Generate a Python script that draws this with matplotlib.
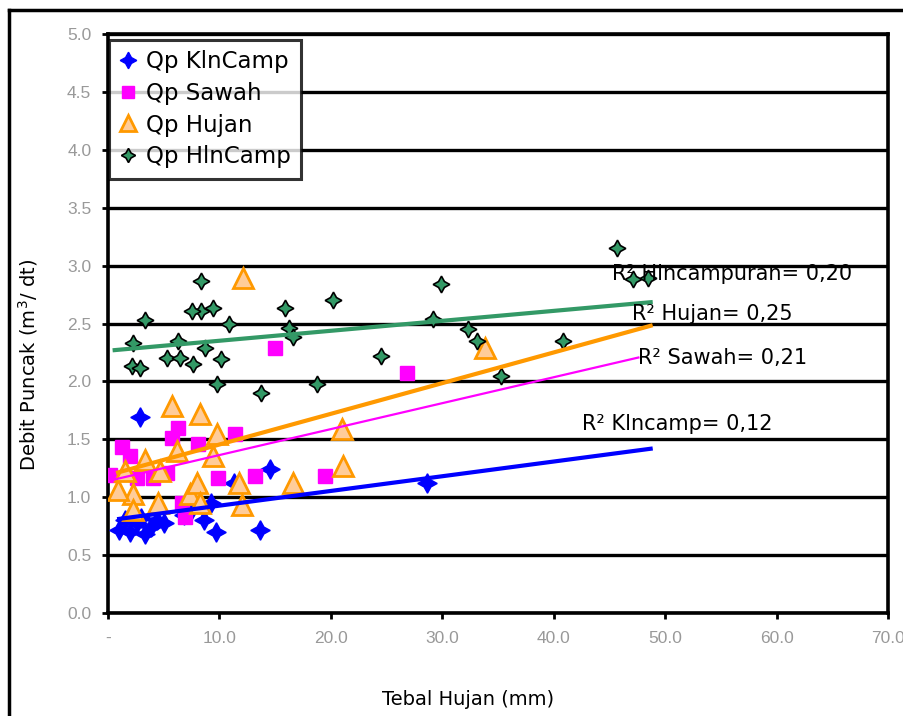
import matplotlib
matplotlib.use("Agg")
import numpy as np
import matplotlib.pyplot as plt
from matplotlib.lines import Line2D

# Qp KlnCamp (blue)
KLN_X = [1.0, 1.5, 2.0, 2.6, 3.0, 3.3, 3.9, 4.4, 5.0, 2.9, 6.8, 7.5, 8.6, 9.2, 9.7, 11.3, 13.6, 14.5, 28.6]
KLN_Y = [0.72, 0.80, 0.70, 0.78, 0.82, 0.68, 0.74, 0.80, 0.78, 1.69, 0.85, 0.90, 0.80, 0.95, 0.70, 1.12, 0.72, 1.24, 1.12]

# Qp Sawah (magenta)
SAWAH_X = [15.0, 26.8, 6.3, 5.7, 1.25, 2.0, 8.1, 11.4, 0.2, 2.6, 4.0, 5.3, 9.9, 13.2, 19.5, 6.9, 6.6]
SAWAH_Y = [2.29, 2.07, 1.60, 1.51, 1.43, 1.36, 1.46, 1.55, 1.19, 1.17, 1.17, 1.21, 1.17, 1.18, 1.18, 0.83, 0.95]

# Qp Hujan (orange triangles)
HUJAN_X = [12.1, 33.8, 5.7, 8.3, 9.8, 21.1, 21.0, 16.6, 11.8, 12.0, 3.3, 6.2, 2.2, 4.5,
           7.4, 8.0, 2.2, 8.3, 0.9, 1.5, 4.7, 9.4]
HUJAN_Y = [2.89, 2.29, 1.79, 1.72, 1.55, 1.27, 1.59, 1.12, 1.12, 0.93, 1.32, 1.40, 1.03, 0.95,
           1.03, 1.12, 0.89, 0.95, 1.06, 1.23, 1.23, 1.36]

# Qp HlnCamp (green)
HLN_X = [8.35, 3.3, 8.35, 7.5, 9.4, 10.9, 2.2, 6.3, 5.3, 6.5, 7.6, 8.7, 10.1, 2.15, 2.9, 9.8,
         13.7, 15.9, 20.2, 16.2, 16.6, 24.5, 18.8, 45.7, 29.9, 47.1, 48.5, 29.2, 32.3, 33.1,
         40.8, 35.3]
HLN_Y = [2.87, 2.53, 2.61, 2.61, 2.63, 2.50, 2.33, 2.35, 2.20, 2.20, 2.15, 2.29, 2.19, 2.13,
         2.12, 1.98, 1.90, 2.63, 2.70, 2.46, 2.38, 2.22, 1.98, 3.15, 2.84, 2.88, 2.89, 2.54,
         2.45, 2.35, 2.35, 2.05]

# linear trend lines: slope, intercept, x range
TREND_SLOPE = [0.0127, 0.0224, 0.0265, 0.0086]
TREND_INTERCEPT = [0.80, 1.14, 1.19, 2.265]
TREND_X0 = [1.0, 0.2, 0.9, 0.6]
TREND_X1 = [48.7, 47.6, 48.7, 48.7]

SERIES_LABELS = ["Qp KlnCamp", "Qp Sawah", "Qp Hujan", "Qp HlnCamp"]
R2_LABELS = ["R² Klncamp= 0,12", "R² Sawah= 0,21", "R² Hujan= 0,25", "R² Hlncampuran= 0,20"]
R2_POS = [(42.5, 1.63), (47.6, 2.20), (47.0, 2.58), (45.2, 2.93)]

Y_TICKS = np.arange(0, 5.01, 0.5)
X_TICKS = np.arange(0, 71, 10)
X_TICK_LABELS = ["-", "10.0", "20.0", "30.0", "40.0", "50.0", "60.0", "70.0"]

BLUE = "#0000FF"
MAGENTA = "#FF00FF"
ORANGE = "#FF9900"
PEACH = "#FFCC99"
GREEN = "#339966"

plt.rcParams["font.family"] = ["Liberation Sans", "DejaVu Sans"]
WIDE = ["DejaVu Sans"]
NARROW = ["Liberation Sans Narrow", "DejaVu Sans"]

fig = plt.figure(figsize=(9.04, 7.16), dpi=100, facecolor="white")
ax = fig.add_axes([108 / 904, 1 - 613 / 716, 780 / 904, 579 / 716])

star4 = (4, 1, 0)
ax.plot(KLN_X, KLN_Y, ls="none", marker=star4, ms=14, color=BLUE, mec=BLUE, label=SERIES_LABELS[0], zorder=3)
ax.plot(SAWAH_X, SAWAH_Y, ls="none", marker="s", ms=10, color=MAGENTA, mec=MAGENTA, label=SERIES_LABELS[1], zorder=3)
ax.plot(HUJAN_X, HUJAN_Y, ls="none", marker="^", ms=14, mfc=PEACH, mec=ORANGE, mew=2, label=SERIES_LABELS[2], zorder=3)
ax.plot(HLN_X, HLN_Y, ls="none", marker=star4, ms=12, mfc=GREEN, mec="black", mew=1.2, label=SERIES_LABELS[3], zorder=3)

# trend lines sit on top of the markers, as in the source chart
trend_colors = [BLUE, MAGENTA, ORANGE, GREEN]
trend_widths = [3.0, 1.6, 3.0, 3.0]
for slope, icpt, x0, x1, c, lw in zip(TREND_SLOPE, TREND_INTERCEPT, TREND_X0, TREND_X1, trend_colors, trend_widths):
    xs = np.array([x0, x1])
    ax.plot(xs, icpt + slope * xs, color=c, lw=lw, zorder=4)

for text, (tx, ty) in zip(R2_LABELS, R2_POS):
    ax.text(tx, ty, text, fontsize=15, family=WIDE, color="black", ha="left", va="center", zorder=5)

ax.set_xlim(0, 70)
ax.set_ylim(0, 5)
ax.set_yticks(Y_TICKS, [f"{v:.1f}" for v in Y_TICKS])
ax.set_xticks(X_TICKS, X_TICK_LABELS)
ax.tick_params(axis="both", direction="out", length=4, width=2, colors="black",
               labelcolor="#999999", labelsize=12.5)
ax.tick_params(axis="y", pad=8)
ax.tick_params(axis="x", pad=9)
ax.grid(axis="y", color="black", lw=2.4, zorder=1)
ax.set_axisbelow(True)
for sp in ax.spines.values():
    sp.set_color("black")
    sp.set_linewidth(2.6)

ax.set_xlabel("Tebal Hujan (mm)", fontsize=14, family=NARROW)
ax.set_ylabel("Debit Puncak (m$^3$/ dt)", fontsize=14, family=NARROW)
ax.xaxis.set_label_coords((468 - 108) / 780, (613 - 690) / 579)
ax.yaxis.set_label_coords((40 - 108) / 780, (613 - 365) / 579)

leg = ax.legend(loc="upper left", bbox_to_anchor=(0.0015, 0.99), frameon=True, fancybox=False,
                prop={"family": WIDE, "size": 16.5}, handlelength=0.7, handletextpad=0.45,
                labelspacing=0.38, borderpad=0.45, borderaxespad=0.0, markerscale=0.85)
leg.get_frame().set_edgecolor("black")
leg.get_frame().set_linewidth(2.2)
leg.set_zorder(6)

# outer chart frame (left and top edges visible)
fig.add_artist(Line2D([9 / 904, 9 / 904], [0, 1 - 10 / 716], color="black", lw=2.5, transform=fig.transFigure))
fig.add_artist(Line2D([9 / 904, 1], [1 - 10 / 716, 1 - 10 / 716], color="black", lw=2.5, transform=fig.transFigure))

fig.savefig("out.png", dpi=100, facecolor="white")
